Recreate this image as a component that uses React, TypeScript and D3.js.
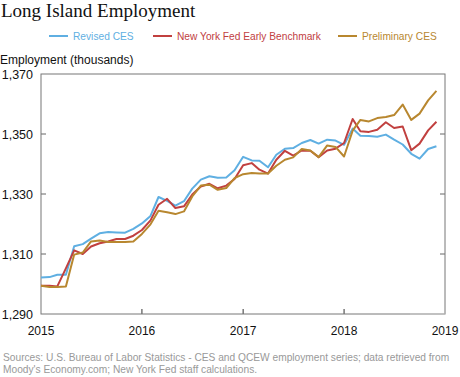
import React from "react";
import * as d3 from "d3";

const months: string[] = d3.range(48).map((i) => {
  const y = 2015 + Math.floor(i / 12);
  const m = (i % 12) + 1;
  return `${y}-${String(m).padStart(2, "0")}-01`;
});

const revisedCES = [
  1302.2, 1302.3, 1303.1, 1303.1, 1312.6, 1313.3, 1315.1, 1316.9, 1317.3, 1317.2, 1317.1, 1318.4,
  1320.2, 1322.7, 1329.0, 1327.7, 1326.1, 1327.6, 1331.8, 1334.8, 1335.9, 1335.4, 1335.5, 1337.9,
  1342.4, 1341.2, 1341.1, 1338.9, 1343.1, 1345.1, 1345.3, 1347.0, 1348.0, 1346.8, 1348.1, 1347.8,
  1346.4, 1351.8, 1349.4, 1349.3, 1349.1, 1349.8, 1348.1, 1346.5, 1343.4, 1341.8, 1345.0, 1345.9,
];

const nyFedEarly = [
  1299.4, 1299.4, 1299.2, 1305.2, 1311.2, 1310.0, 1312.5, 1313.6, 1314.2, 1315.0, 1315.0, 1316.1,
  1318.0, 1321.2, 1326.4, 1328.4, 1325.3, 1325.9, 1329.8, 1332.5, 1333.4, 1331.9, 1332.8, 1335.0,
  1339.6, 1340.3, 1338.1, 1336.8, 1341.4, 1344.4, 1342.8, 1344.5, 1344.4, 1342.3, 1344.5, 1345.1,
  1347.0, 1355.0, 1350.9, 1350.7, 1351.4, 1353.9, 1352.0, 1352.5, 1344.6, 1346.8, 1351.2, 1354.1,
];

const preliminaryCES = [
  1299.4, 1299.0, 1299.0, 1299.2, 1309.8, 1310.5, 1314.2, 1314.5, 1314.0, 1314.0, 1314.0, 1314.2,
  1316.7, 1319.9, 1324.4, 1323.9, 1323.3, 1324.2, 1329.2, 1332.8, 1333.1, 1331.4, 1332.0, 1335.3,
  1336.6, 1337.0, 1336.8, 1336.8, 1339.4, 1341.4, 1342.2, 1345.0, 1344.5, 1342.3, 1346.2, 1345.7,
  1342.5, 1351.1, 1354.7, 1354.2, 1355.3, 1355.7, 1356.3, 1359.8, 1354.7, 1356.8, 1361.2, 1364.4,
];

const seriesNames = ["Revised CES", "New York Fed Early Benchmark", "Preliminary CES"];
const seriesColors = ["#5fafe2", "#c1403f", "#b8872f"];
const yTicks = [1290, 1310, 1330, 1350, 1370];
const xTickYears = [2015, 2016, 2017, 2018, 2019];
const footerLines = [
  "Sources: U.S. Bureau of Labor Statistics - CES and QCEW employment series; data retrieved from",
  "Moody's Economy.com; New York Fed staff calculations.",
];

export default function App() {
  const W = 460;
  const H = 377;
  const left = 41;
  const right = 445;
  const top = 74;
  const bottom = 314;

  const parse = d3.timeParse("%Y-%m-%d");
  const dates = months.map((m) => parse(m) as Date);
  const x = d3
    .scaleTime()
    .domain([new Date(2015, 0, 1), new Date(2019, 0, 1)])
    .range([left, right]);
  const y = d3.scaleLinear().domain([1290, 1370]).range([bottom, top]);
  const fmt = d3.format(",");

  const allSeries = [revisedCES, nyFedEarly, preliminaryCES];
  const line = d3
    .line<number>()
    .x((_, i) => x(dates[i]))
    .y((d) => y(d));

  const legendX = [49, 153, 338];

  return (
    <svg
      width={W}
      height={H}
      style={{ position: "absolute", left: 0, top: 0, background: "#fff" }}
      fontFamily="Arial, 'Liberation Sans', sans-serif"
    >
      <text x={1} y={17} fontFamily="'Liberation Serif', 'DejaVu Serif', serif" fontSize={19} fill="#111">
        Long Island Employment
      </text>

      {seriesNames.map((name, i) => (
        <g key={name}>
          <line x1={legendX[i]} x2={legendX[i] + 19} y1={36} y2={36} stroke={seriesColors[i]} strokeWidth={2} />
          <text x={legendX[i] + 24} y={39.5} fontSize={10.2} fill={seriesColors[i]}>
            {name}
          </text>
        </g>
      ))}

      <text x={0} y={64} fontSize={12} fill="#111">
        Employment (thousands)
      </text>

      {yTicks.map((t) => (
        <g key={t}>
          <text x={33} y={y(t) + 4.5} fontSize={12.5} textAnchor="end" fill="#111">
            {fmt(t)}
          </text>
          {t !== 1290 && t !== 1370 && (
            <>
              <line x1={left} x2={left + 5} y1={y(t)} y2={y(t)} stroke="#666" />
              <line x1={right - 5} x2={right} y1={y(t)} y2={y(t)} stroke="#666" />
            </>
          )}
        </g>
      ))}

      {xTickYears.map((yr) => {
        const xx = x(new Date(yr, 0, 1));
        return (
          <g key={yr}>
            <text x={xx} y={335} fontSize={12} textAnchor="middle" fill="#111">
              {yr}
            </text>
            {yr !== 2015 && yr !== 2019 && (
              <line x1={xx} x2={xx} y1={bottom} y2={bottom - 5} stroke="#333" />
            )}
          </g>
        );
      })}

      <rect x={left} y={top} width={right - left} height={bottom - top} fill="none" stroke="#777" strokeWidth={1} />
      <line x1={410} x2={right} y1={bottom} y2={bottom} stroke="#c8c8c8" strokeWidth={1.2} />

      {allSeries.map((s, i) => (
        <path key={i} d={line(s) || ""} fill="none" stroke={seriesColors[i]} strokeWidth={2} strokeLinejoin="round" />
      ))}

      {footerLines.map((l, i) => (
        <text key={i} x={3} y={361} dy={i * 12} fontSize={10.2} fill="#999">
          {l}
        </text>
      ))}
    </svg>
  );
}
